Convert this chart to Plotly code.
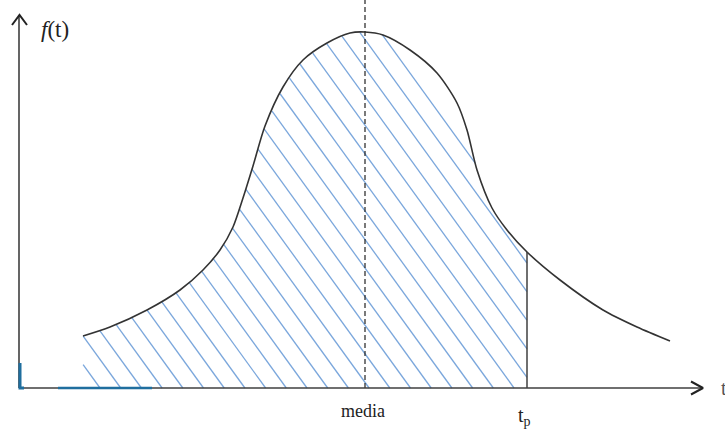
import numpy as np
import plotly.graph_objects as go

t_curve = [83, 110, 147, 180, 203, 220, 233, 243, 253, 265, 283, 303, 327, 350, 365,
           383, 410, 437, 457, 467, 477, 492, 507, 527, 560, 603, 637, 670]
f_curve = [52, 61, 78, 98, 118, 138, 161, 190, 222, 262, 301, 328, 345, 355, 356,
           353, 338, 315, 285, 258, 218, 180, 158, 136, 108, 78, 61, 47]

t_start = 83      # hatched area starts here
t_media = 365     # mean (dashed line)
t_p = 527         # hatched area ends here
t_axis_end = 703
f_axis_end = 373
f_top = 388

axis_col = "#3f3f3f"
hatch_col = "#7ba7dc"
serif = "Liberation Serif, Times New Roman, serif"

fig = go.Figure()

# hatching: "\" lines clipped to the area under the curve between t_start and t_p
k = 1.38
step = 20.7
c_vals = np.arange(307 - step * 12, t_p + 140 / k + step, step)
hx, hy = [], []
for c in c_vals:
    ys = np.linspace(0, f_top, 2000)
    xs = c - ys / k
    inside = (xs >= t_start) & (xs <= t_p) & (ys <= np.interp(xs, t_curve, f_curve))
    idx = np.where(inside)[0]
    if len(idx) == 0:
        continue
    runs = np.split(idx, np.where(np.diff(idx) > 1)[0] + 1)
    for r in runs:
        hx += [xs[r[0]], xs[r[-1]], None]
        hy += [ys[r[0]], ys[r[-1]], None]
fig.add_trace(go.Scatter(x=hx, y=hy, mode="lines",
                         line=dict(color=hatch_col, width=1.3), hoverinfo="skip"))

# curve
fig.add_trace(go.Scatter(x=t_curve, y=f_curve, mode="lines",
                         line=dict(color="#333333", width=1.6, shape="spline", smoothing=0.8),
                         hoverinfo="skip"))

# vertical line at t_p
fig.add_trace(go.Scatter(x=[t_p, t_p], y=[0, np.interp(t_p, t_curve, f_curve)], mode="lines",
                         line=dict(color=axis_col, width=1.5), hoverinfo="skip"))

# dashed mean line
fig.add_trace(go.Scatter(x=[t_media, t_media], y=[0, f_top], mode="lines",
                         line=dict(color="#222222", width=1.2, dash="5px,3px"), hoverinfo="skip"))

# axes with open arrowheads
fig.add_trace(go.Scatter(x=[19, t_axis_end], y=[0, 0], mode="lines",
                         line=dict(color=axis_col, width=1.6), hoverinfo="skip"))
fig.add_trace(go.Scatter(x=[19, 19], y=[0, f_axis_end], mode="lines",
                         line=dict(color=axis_col, width=1.6), hoverinfo="skip"))
fig.add_trace(go.Scatter(x=[t_axis_end - 12, t_axis_end, t_axis_end - 12], y=[6.5, 0, -6.5],
                         mode="lines", line=dict(color="#222222", width=2), hoverinfo="skip"))
fig.add_trace(go.Scatter(x=[12, 19.5, 27], y=[f_axis_end - 10, f_axis_end, f_axis_end - 10],
                         mode="lines", line=dict(color="#222222", width=2), hoverinfo="skip"))

# small teal marks near the origin
fig.add_trace(go.Scatter(x=[20, 20, 24], y=[25, 0, 0], mode="lines",
                         line=dict(color="#1f6e9e", width=3), hoverinfo="skip"))
fig.add_trace(go.Scatter(x=[58, 152], y=[0, 0], mode="lines",
                         line=dict(color="#1f6e9e", width=2.5), hoverinfo="skip"))

# labels
fig.add_annotation(x=39, y=359, text="<i>f</i>(t)", showarrow=False, xanchor="left",
                   font=dict(family=serif, size=23, color="#222222"))
fig.add_annotation(x=t_media - 2, y=-23, text="media", showarrow=False,
                   font=dict(family=serif, size=18, color="#222222"))
fig.add_annotation(x=t_p - 3, y=-14, text="t<sub>p</sub>", showarrow=False, yanchor="top",
                   font=dict(family=serif, size=20, color="#222222"))
fig.add_annotation(x=719, y=0, text="t", showarrow=False, xanchor="left",
                   font=dict(family=serif, size=20, color="#555555"))

fig.update_layout(
    width=725, height=430,
    margin=dict(l=0, r=0, t=0, b=0),
    paper_bgcolor="white", plot_bgcolor="white",
    showlegend=False,
    xaxis=dict(range=[0, 725], visible=False, fixedrange=True),
    yaxis=dict(range=[-42, 388], visible=False, fixedrange=True),
)

fig.write_html("out.html", config={"displayModeBar": False},
               post_script="document.body.style.margin='0';")
